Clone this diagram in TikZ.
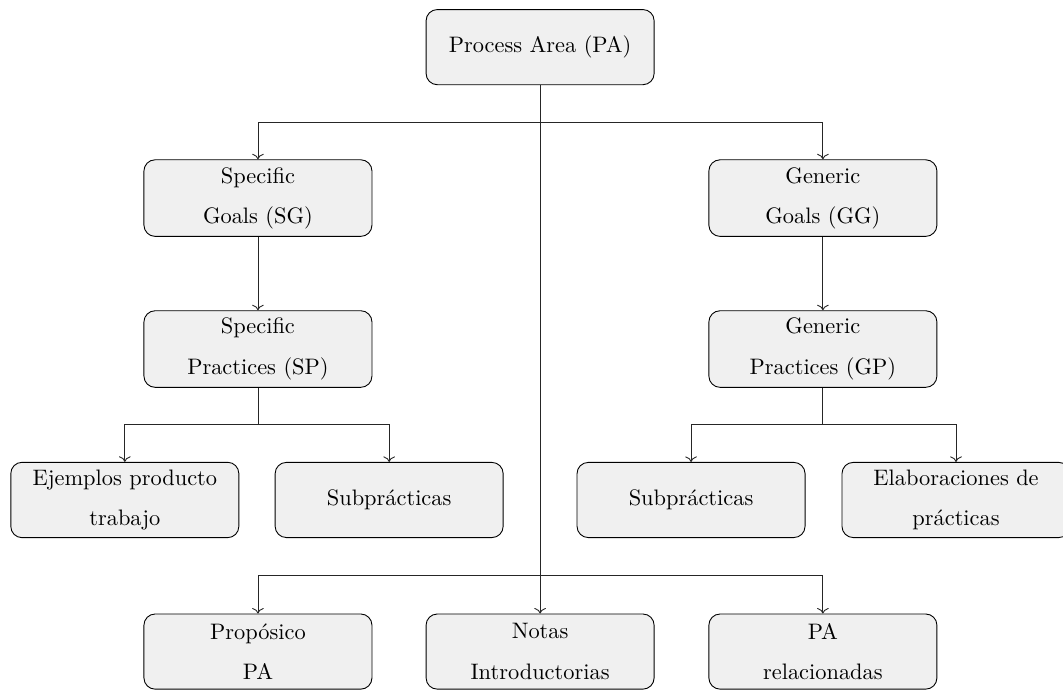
\documentclass[tikz,border=0pt]{standalone}
\usepackage{tikz}
\usetikzlibrary{arrows.meta,positioning}

\begin{document}
\begin{tikzpicture}[
  areabox/.style={draw=black, fill=black!6, rounded corners=5pt,
    minimum width=3.58cm, minimum height=1.18cm, align=center,
    font=\linespread{1.5}\selectfont},
  link/.style={->, black!85}]

\useasboundingbox (0,0) rectangle (16.69,-10.82);

% Top level
\node[areabox] (pa) at (8.48,-0.74) {Process Area (PA)};

% Specific side
\node[areabox] (sg) at (4.05,-3.11) {Specific\\Goals (SG)};
\node[areabox] (sp) at (4.05,-5.48) {Specific\\Practices (SP)};
\node[areabox] (ejemplos) at (1.96,-7.85) {Ejemplos producto\\trabajo};
\node[areabox] (subl) at (6.11,-7.85) {Subprácticas};

% Generic side
\node[areabox] (gg) at (12.92,-3.11) {Generic\\Goals (GG)};
\node[areabox] (gp) at (12.92,-5.48) {Generic\\Practices (GP)};
\node[areabox] (subr) at (10.85,-7.85) {Subprácticas};
\node[areabox] (elab) at (15.01,-7.85) {Elaboraciones de\\prácticas};

% Informative components
\node[areabox] (proposito) at (4.05,-10.23) {Propósico\\PA};
\node[areabox] (notas) at (8.48,-10.23) {Notas\\Introductorias};
\node[areabox] (relac) at (12.92,-10.23) {PA\\relacionadas};

% Branch points
\coordinate (btop) at (8.48,-1.93);
\coordinate (bsp) at (4.05,-6.67);
\coordinate (bgp) at (12.92,-6.67);
\coordinate (bbot) at (8.48,-9.04);

% Connectors
\draw[link] (btop) -| (sg.north);
\draw[link] (btop) -| (gg.north);
\draw[link] (pa.south) -- (notas.north);
\draw[link] (sg.south) -- (sp.north);
\draw[link] (gg.south) -- (gp.north);
\draw[black!85] (sp.south) -- (bsp);
\draw[link] (bsp) -| (ejemplos.north);
\draw[link] (bsp) -| (subl.north);
\draw[black!85] (gp.south) -- (bgp);
\draw[link] (bgp) -| (subr.north);
\draw[link] (bgp) -| (elab.north);
\draw[link] (bbot) -| (proposito.north);
\draw[link] (bbot) -| (relac.north);

\end{tikzpicture}
\end{document}
